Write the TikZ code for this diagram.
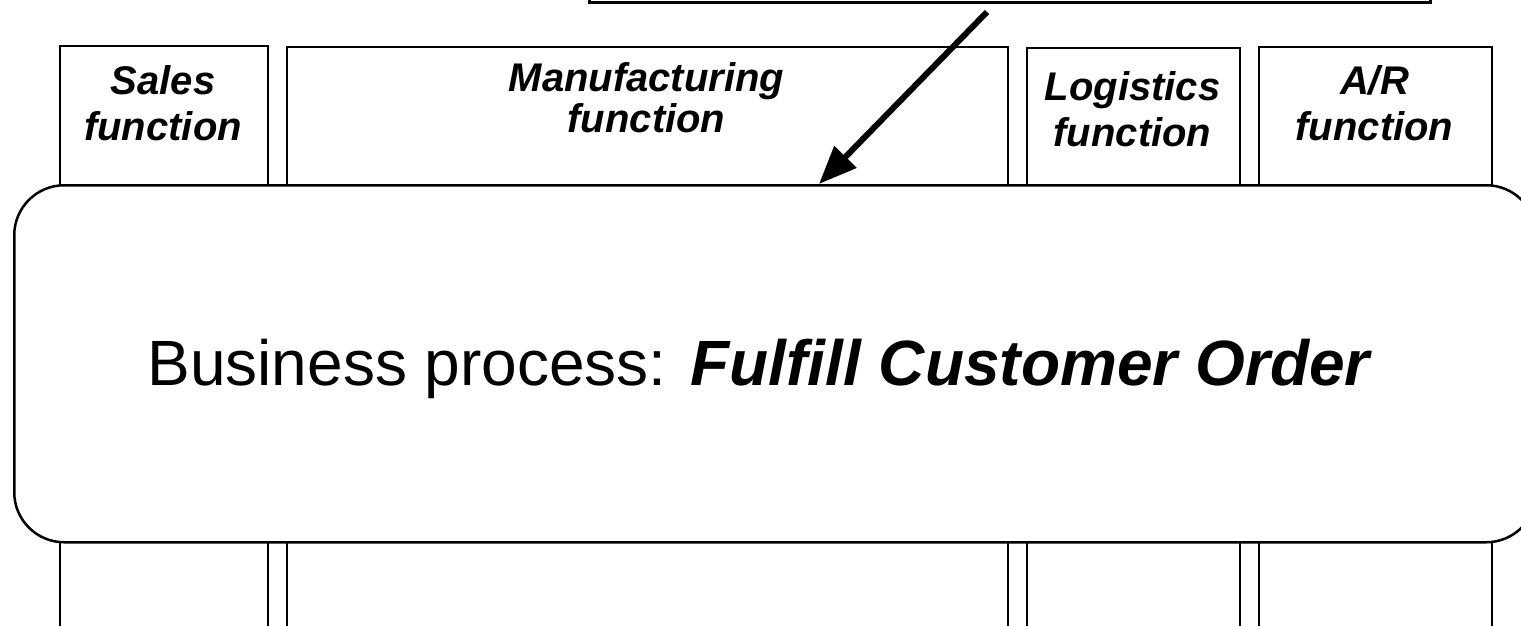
\documentclass[tikz,border=0pt]{standalone}
\usepackage{fontspec}
\setmainfont{Liberation Sans}
\usetikzlibrary{arrows.meta}
\tikzset{
  colbox/.style={draw, line width=2pt, inner sep=0pt, anchor=north west, minimum height=620pt},
  collabel/.style={anchor=north, inner sep=0pt, align=center, font=\fontsize{40}{46}\selectfont\bfseries\itshape},
  bigbox/.style={draw, fill=white, line width=2.5pt, rounded corners=50pt, inner sep=0pt, anchor=north west, minimum width=1522pt, minimum height=357pt},
  topbox/.style={draw, line width=3pt, inner sep=0pt, anchor=south west, minimum width=841pt, minimum height=60pt},
  bigarrow/.style={line width=6pt, -{Triangle[length=38pt, width=30pt]}},
}
\begin{document}
\begin{tikzpicture}[x=1pt, y=-1pt]
\useasboundingbox (0,0) rectangle (1521,625);
\clip (0,0) rectangle (1521,625);
% columns
\node[colbox, minimum width=208pt] (sales) at (59,45) {};
\node[colbox, minimum width=721pt] (manuf) at (286,46) {};
\node[colbox, minimum width=213pt] (logis) at (1026,47) {};
\node[colbox, minimum width=233pt] (ar) at (1258,46) {};
\node[collabel] (saleslbl) at (163,65) {Sales\\function};
\node[collabel, font=\fontsize{40}{41}\selectfont\bfseries\itshape] (manuflbl) at (646.5,62) {Manufacturing\\function};
\node[collabel] (logislbl) at (1132.5,71) {Logistics\\function};
\node[collabel] (arlbl) at (1374.5,65) {A/R\\function};
% process box
\node[bigbox] (proc) at (13,184) {};
\node[anchor=base, inner sep=0pt, font=\fontsize{64}{70}\selectfont] (proclbl) at (760,385) {Business process: \textbf{\textit{Fulfill Customer Order}}};
% top box
\node[topbox] (top) at (588,4) {};
\coordinate (astart) at (987,12);
\coordinate (aend) at (819,184);
\draw[bigarrow] (astart) -- (aend);
\end{tikzpicture}
\end{document}
